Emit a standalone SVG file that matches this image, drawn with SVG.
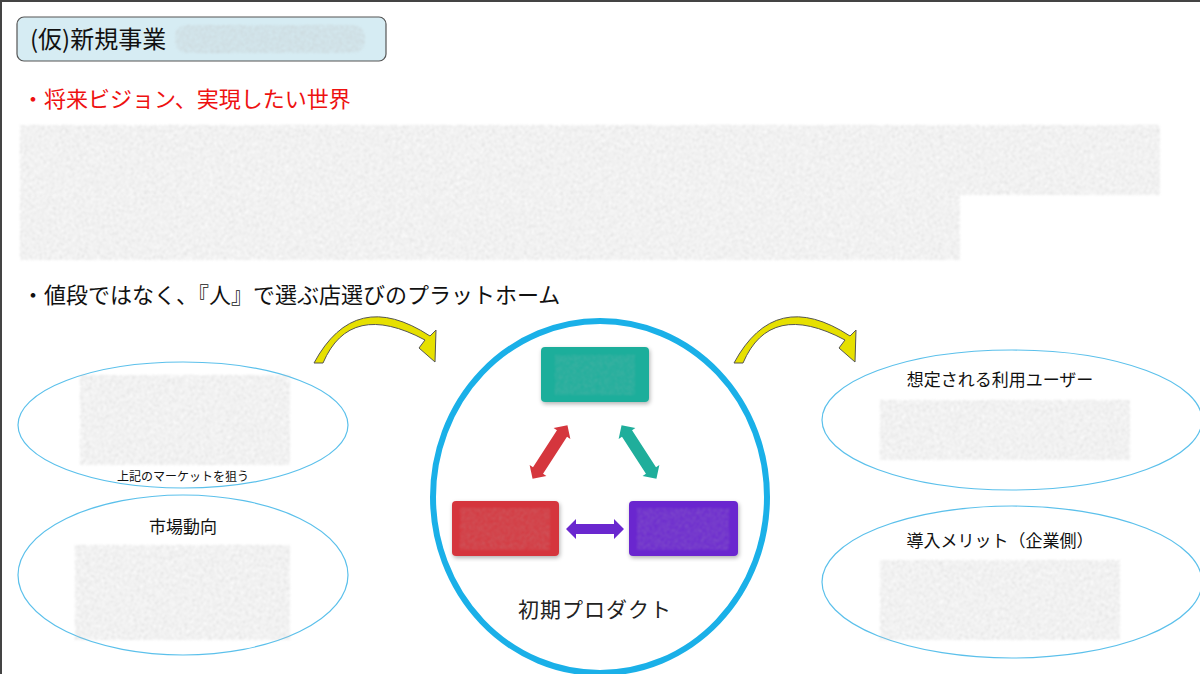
<svg xmlns="http://www.w3.org/2000/svg" width="1200" height="674" viewBox="0 0 1200 674">
<style>
.jp{font-family:"Noto Sans CJK JP","Noto Sans",sans-serif}
.ell{fill:none;stroke:#5bc0eb;stroke-width:1.2}
.yel{fill:#e6e000;stroke:#555;stroke-width:1}
</style>
<defs>
<filter id="blur" x="-10%" y="-30%" width="120%" height="160%">
<feTurbulence type="fractalNoise" baseFrequency="0.6" numOctaves="2" result="n"/>
<feColorMatrix in="n" type="matrix" values="0 0 0 0 0.5 0 0 0 0 0.5 0 0 0 0 0.5 0 0 0 1.4 -0.5" result="g"/>
<feComposite in="g" in2="SourceGraphic" operator="in" result="c"/>
<feGaussianBlur in="c" stdDeviation="0.8"/>
</filter>
<filter id="shadow"><feDropShadow dx="1" dy="2" stdDeviation="2" flood-opacity="0.3"/></filter>
</defs>
<rect width="1200" height="674" fill="#fff"/>
<path d="M1 674 V1 H1200" fill="none" stroke="#444" stroke-width="2"/>
<g id="title">
<rect x="17" y="17" width="369" height="44" rx="7" fill="#d6ecf3" stroke="#555" stroke-width="1.2"/>
<text x="30" y="48" class="jp" font-size="24" fill="#111">(仮)新規事業</text>
<rect x="175" y="25" width="190" height="28" rx="12" fill="#bbb" filter="url(#blur)"/>
</g>
<text x="22" y="107" class="jp" font-size="22" fill="#ee1111">・将来ビジョン、実現したい世界</text>
<g id="vision-blur">
<rect x="20" y="125" width="1140" height="70" fill="#999" filter="url(#blur)"/>
<rect x="20" y="195" width="940" height="65" fill="#999" filter="url(#blur)"/>
</g>
<text x="22" y="303" class="jp" font-size="22" fill="#111">・値段ではなく、『人』で選ぶ店選びのプラットホーム</text>
<g id="market">
<ellipse cx="183" cy="425" rx="165" ry="63" class="ell"/>
<rect x="80" y="375" width="210" height="90" fill="#aaa" filter="url(#blur)"/>
<text x="183" y="481" class="jp" font-size="12" text-anchor="middle" fill="#111">上記のマーケットを狙う</text>
</g>
<g id="trend">
<ellipse cx="183" cy="575" rx="165" ry="80" class="ell"/>
<text x="183" y="533" class="jp" font-size="17" text-anchor="middle" fill="#111">市場動向</text>
<rect x="75" y="545" width="215" height="95" fill="#aaa" filter="url(#blur)"/>
</g>
<g id="product">
<ellipse cx="600" cy="497" rx="167" ry="176" fill="none" stroke="#1ab0e8" stroke-width="6"/>
<text x="595" y="617" class="jp" font-size="21" text-anchor="middle" fill="#222" letter-spacing="1">初期プロダクト</text>
</g>
<g id="box-teal"><rect x="541" y="347" width="108" height="55" rx="4" fill="#1fae9b" filter="url(#shadow)"/><rect x="555" y="355" width="80" height="40" fill="#fff" opacity="0.5" filter="url(#blur)"/></g>
<g id="box-red"><rect x="452" y="501" width="107" height="55" rx="4" fill="#d5363d" filter="url(#shadow)"/><rect x="460" y="508" width="90" height="42" fill="#fff" opacity="0.6" filter="url(#blur)"/></g>
<g id="box-purple"><rect x="629" y="501" width="109" height="55" rx="4" fill="#6a27cf" filter="url(#shadow)"/><rect x="637" y="508" width="92" height="42" fill="#fff" opacity="0.6" filter="url(#blur)"/></g>
<g id="connectors">
<g transform="translate(550,452) rotate(-57)"><path d="M-32 0 L-22 -10 L-22 -6 L22 -6 L22 -10 L32 0 L22 10 L22 6 L-22 6 L-22 10 Z" fill="#d5363d"/></g>
<g transform="translate(639,452) rotate(57)"><path d="M-32 0 L-22 -10 L-22 -6 L22 -6 L22 -10 L32 0 L22 10 L22 6 L-22 6 L-22 10 Z" fill="#1fae9b"/></g>
<g transform="translate(595,529)"><path d="M-29 0 L-19 -10 L-19 -5 L19 -5 L19 -10 L29 0 L19 10 L19 5 L-19 5 L-19 10 Z" fill="#6a27cf"/></g>
<path class="yel" d="M314 363 L323 363 Q350 300 425 340 L419 348 L435 362 L436 330 L430 336 Q355 287 314 363 Z"/>
<path class="yel" d="M734 363 L743 363 Q770 300 845 340 L839 348 L855 362 L856 330 L850 336 Q775 287 734 363 Z"/>
</g>
<g id="users">
<ellipse cx="1012" cy="420" rx="190" ry="70" class="ell"/>
<text x="1000" y="386" class="jp" font-size="17" text-anchor="middle" fill="#111">想定される利用ユーザー</text>
<rect x="880" y="400" width="250" height="60" fill="#aaa" filter="url(#blur)"/>
</g>
<g id="merit">
<ellipse cx="1012" cy="582" rx="190" ry="76" class="ell"/>
<text x="1000" y="547" class="jp" font-size="17" text-anchor="middle" fill="#111">導入メリット（企業側）</text>
<rect x="880" y="560" width="240" height="80" fill="#aaa" filter="url(#blur)"/>
</g>
</svg>
